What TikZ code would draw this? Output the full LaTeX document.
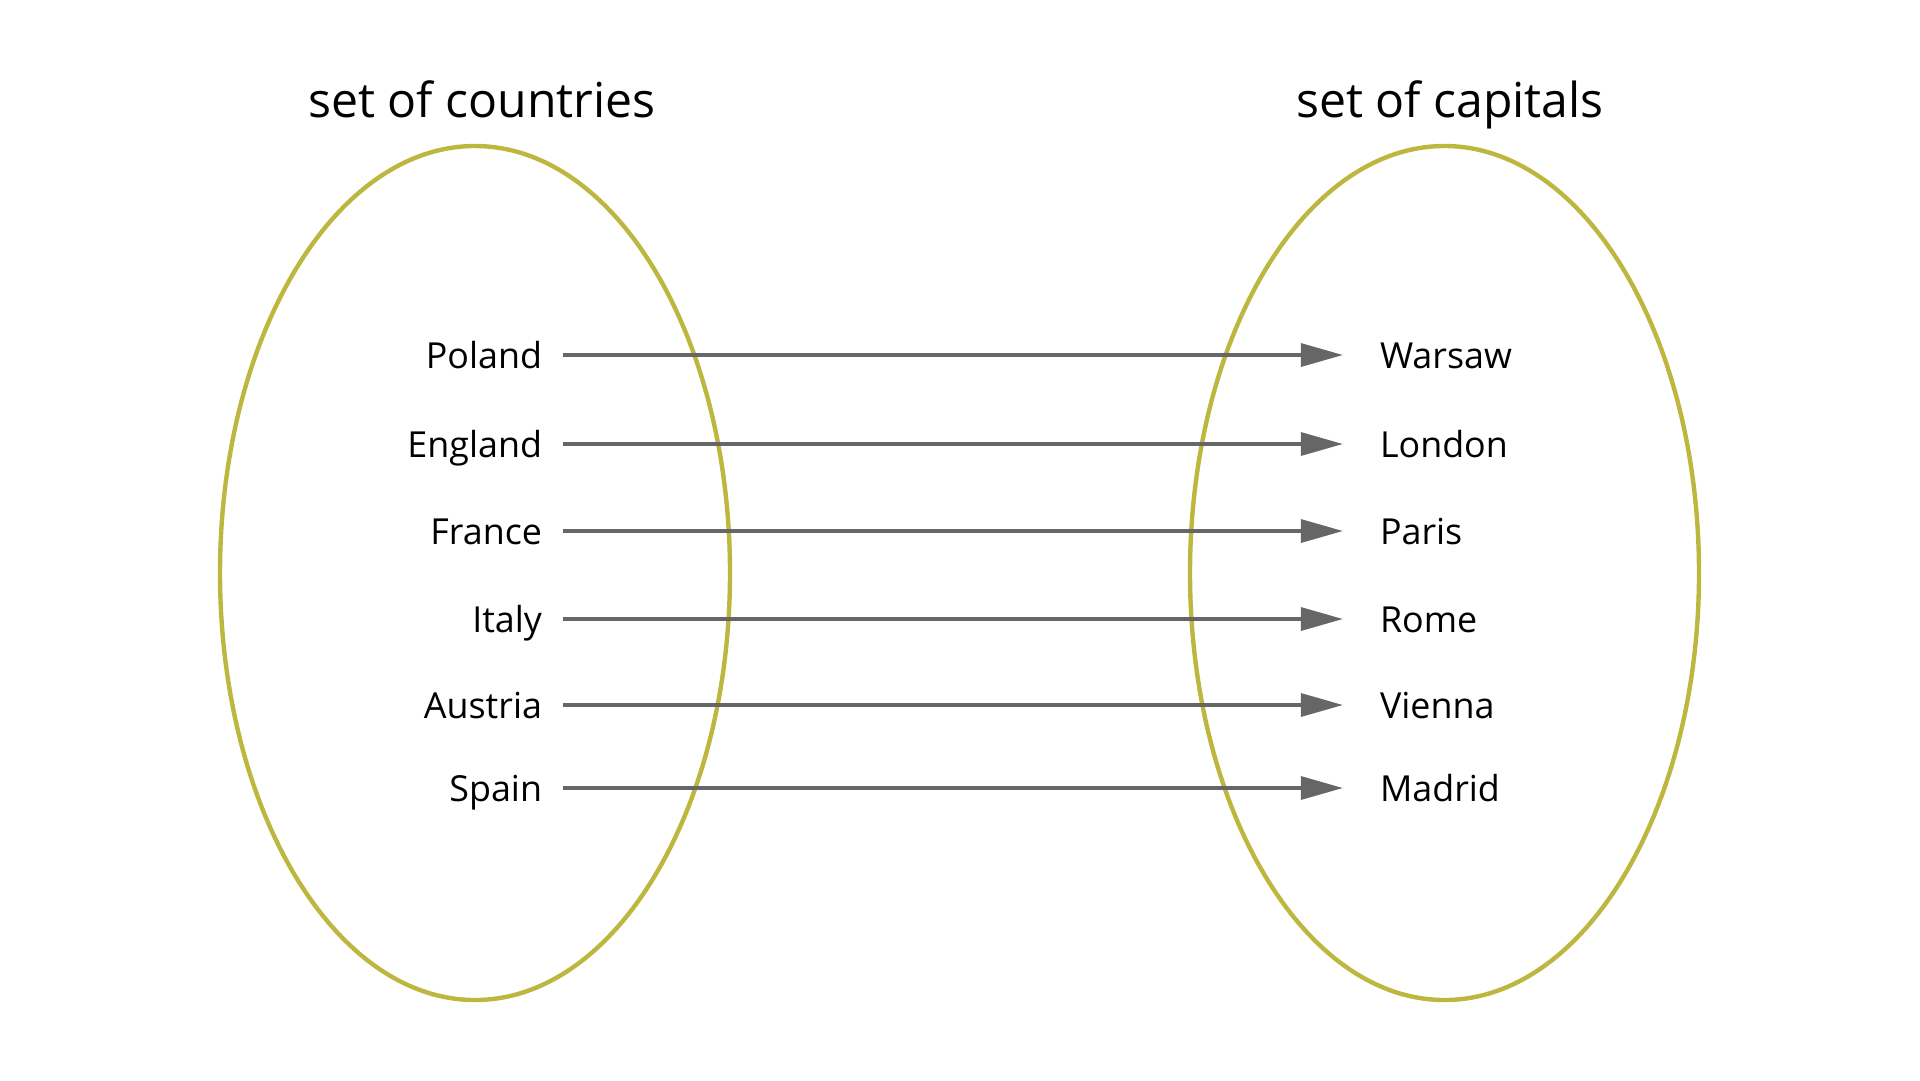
\documentclass[tikz,border=0pt]{standalone}
\usepackage{fontspec}
\setmainfont{Open Sans}
\usetikzlibrary{arrows.meta}
\definecolor{setolive}{RGB}{189,183,64}
\definecolor{mapgray}{RGB}{102,102,102}
\tikzset{
  setline/.style={draw=setolive, line width=2.5pt},
  title/.style={font=\fontsize{27.4}{32}\selectfont, inner sep=0, outer sep=0},
  elem/.style={font=\fontsize{20.4}{24}\selectfont, inner sep=0, outer sep=0,
    text height=15pt, text depth=0pt},
  maps/.style={draw=mapgray, line width=2.2pt,
    -{Triangle[length=24pt, width=13pt]}, shorten <=0.42cm, shorten >=0.74cm}
}
\begin{document}
\begin{tikzpicture}[x=0.02cm, y=-0.02cm]
\useasboundingbox (0,0) rectangle (1920,1080);
\draw[setline] (475,573) ellipse [x radius=255, y radius=427];
\draw[setline] (1444.5,573) ellipse [x radius=254.5, y radius=427];
\node (tc) at (482,117) [title, anchor=base] {set of countries};
\node (tk) at (1450,117) [title, anchor=base] {set of capitals};
\node (c0) at (542,355) [elem, anchor=east] {Poland};
\node (c1) at (542,444) [elem, anchor=east] {England};
\node (c2) at (542,531) [elem, anchor=east] {France};
\node (c3) at (542,619) [elem, anchor=east] {Italy};
\node (c4) at (542,705) [elem, anchor=east] {Austria};
\node (c5) at (542,788) [elem, anchor=east] {Spain};
\node (k0) at (1380,355) [elem, anchor=west] {Warsaw};
\node (k1) at (1380,444) [elem, anchor=west] {London};
\node (k2) at (1380,531) [elem, anchor=west] {Paris};
\node (k3) at (1380,619) [elem, anchor=west] {Rome};
\node (k4) at (1380,705) [elem, anchor=west] {Vienna};
\node (k5) at (1380,788) [elem, anchor=west] {Madrid};
\draw[maps] (c0) -- (k0);
\draw[maps] (c1) -- (k1);
\draw[maps] (c2) -- (k2);
\draw[maps] (c3) -- (k3);
\draw[maps] (c4) -- (k4);
\draw[maps] (c5) -- (k5);
\end{tikzpicture}
\end{document}
